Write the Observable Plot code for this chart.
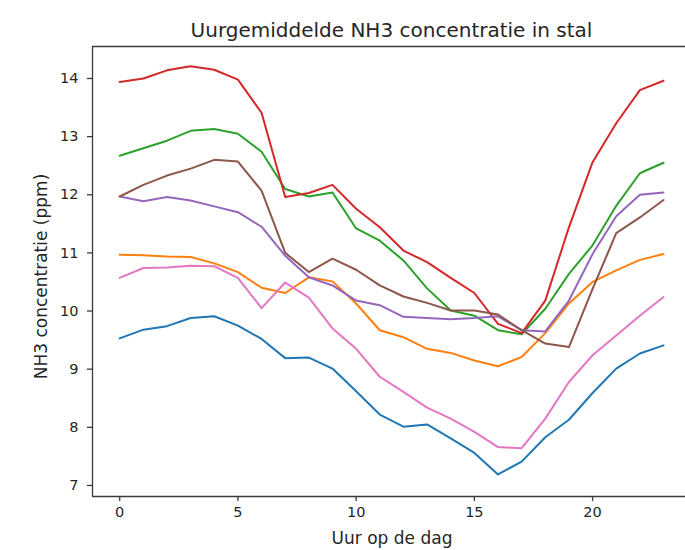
<!DOCTYPE html>
<html>
<head>
<meta charset="utf-8">
<script src="https://cdn.jsdelivr.net/npm/d3@7"></script>
<script src="https://cdn.jsdelivr.net/npm/@observablehq/plot@0.6"></script>
<style>
  html, body { margin: 0; padding: 0; background: #ffffff; }
  #chart svg {
    display: block;
    background:
      linear-gradient(#eaf0f6, #eaf0f6) 0 0 / 100% 9px no-repeat,
      linear-gradient(#e8eef5, #e8eef5) 0 0 / 20px 100% no-repeat,
      #ffffff;
  }
</style>
</head>
<body>
<div id="chart"></div>
<script>
const hours = [0,1,2,3,4,5,6,7,8,9,10,11,12,13,14,15,16,17,18,19,20,21,22,23];
const xTicks = [0, 5, 10, 15, 20];
const yTicks = [7, 8, 9, 10, 11, 12, 13, 14];

const blue   = [9.53,9.68,9.74,9.88,9.91,9.75,9.52,9.19,9.20,9.01,8.62,8.22,8.01,8.05,7.81,7.56,7.19,7.41,7.83,8.13,8.59,9.01,9.27,9.41];
const orange = [10.97,10.96,10.94,10.93,10.82,10.67,10.40,10.31,10.58,10.51,10.13,9.67,9.55,9.35,9.28,9.15,9.05,9.21,9.62,10.13,10.50,10.70,10.88,10.98];
const green  = [12.67,12.80,12.93,13.10,13.13,13.05,12.74,12.10,11.97,12.04,11.42,11.21,10.87,10.39,10.01,9.92,9.67,9.60,10.04,10.64,11.13,11.81,12.37,12.55];
const red    = [13.94,14.00,14.14,14.21,14.15,13.98,13.41,11.96,12.03,12.17,11.76,11.44,11.04,10.84,10.57,10.31,9.78,9.62,10.18,11.44,12.56,13.23,13.80,13.96];
const purple = [11.97,11.89,11.96,11.90,11.80,11.70,11.45,10.95,10.58,10.44,10.18,10.10,9.90,9.88,9.86,9.88,9.91,9.67,9.65,10.18,10.98,11.63,12.00,12.04];
const brown  = [11.97,12.17,12.33,12.45,12.60,12.57,12.07,11.00,10.67,10.90,10.71,10.44,10.25,10.14,10.01,10.01,9.94,9.67,9.44,9.38,10.38,11.34,11.61,11.91];
const pink   = [10.57,10.74,10.75,10.78,10.77,10.57,10.05,10.49,10.23,9.70,9.35,8.87,8.61,8.34,8.15,7.92,7.66,7.64,8.15,8.78,9.24,9.58,9.92,10.24];

const seriesNames = ["s0","s1","s2","s3","s4","s5","s6"];
const seriesValues = [blue, orange, green, red, purple, brown, pink];
const seriesColors = ["#1f77b4","#ff7f0e","#2ca02c","#d62728","#9467bd","#8c564b","#e377c2"];

const title = "Uurgemiddelde NH3 concentratie in stal";
const xLabel = "Uur op de dag";
const yLabel = "NH3 concentratie (ppm)";

const rows = [];
seriesValues.forEach((vals, i) => {
  vals.forEach((v, j) => rows.push({series: seriesNames[i], hour: hours[j], value: v}));
});

const font = "DejaVu Sans, sans-serif";
const ink = "#262626";
const frameColor = "#3a3a3a";

const chart = Plot.plot({
  width: 685,
  height: 550,
  marginLeft: 92,
  marginRight: 0,
  marginTop: 46,
  marginBottom: 54,
  style: {fontFamily: font, color: ink, background: "transparent", overflow: "visible"},
  x: {domain: [-1.15, 23.93]},
  y: {domain: [6.81, 14.55]},
  color: {domain: seriesNames, range: seriesColors},
  marks: [
    Plot.ruleX([-1.15], {stroke: frameColor, strokeWidth: 1.3}),
    Plot.ruleY([6.81], {stroke: frameColor, strokeWidth: 1.3}),
    Plot.ruleY([14.55], {stroke: frameColor, strokeWidth: 1.3}),
    Plot.axisX({ticks: xTicks, tickSize: 5, tickPadding: 5, fontSize: 14.5, stroke: frameColor, strokeWidth: 1.3, label: null, fill: ink}),
    Plot.axisY({ticks: yTicks, tickSize: 5, tickPadding: 9, fontSize: 14.5, stroke: frameColor, strokeWidth: 1.3, label: null, fill: ink}),
    Plot.line(rows, {x: "hour", y: "value", z: "series", stroke: "series", strokeWidth: 2}),
    Plot.text([title], {frameAnchor: "top", textAnchor: "middle", dx: 2.5, dy: -24, fontSize: 20, fill: ink}),
    Plot.text([xLabel], {frameAnchor: "bottom", textAnchor: "middle", dx: 3, dy: 47, fontSize: 17, fill: ink}),
    Plot.text([yLabel], {frameAnchor: "left", textAnchor: "middle", dx: -51, dy: 5, rotate: -90, fontSize: 17, fill: ink})
  ]
});
document.getElementById("chart").appendChild(chart);
</script>
</body>
</html>
